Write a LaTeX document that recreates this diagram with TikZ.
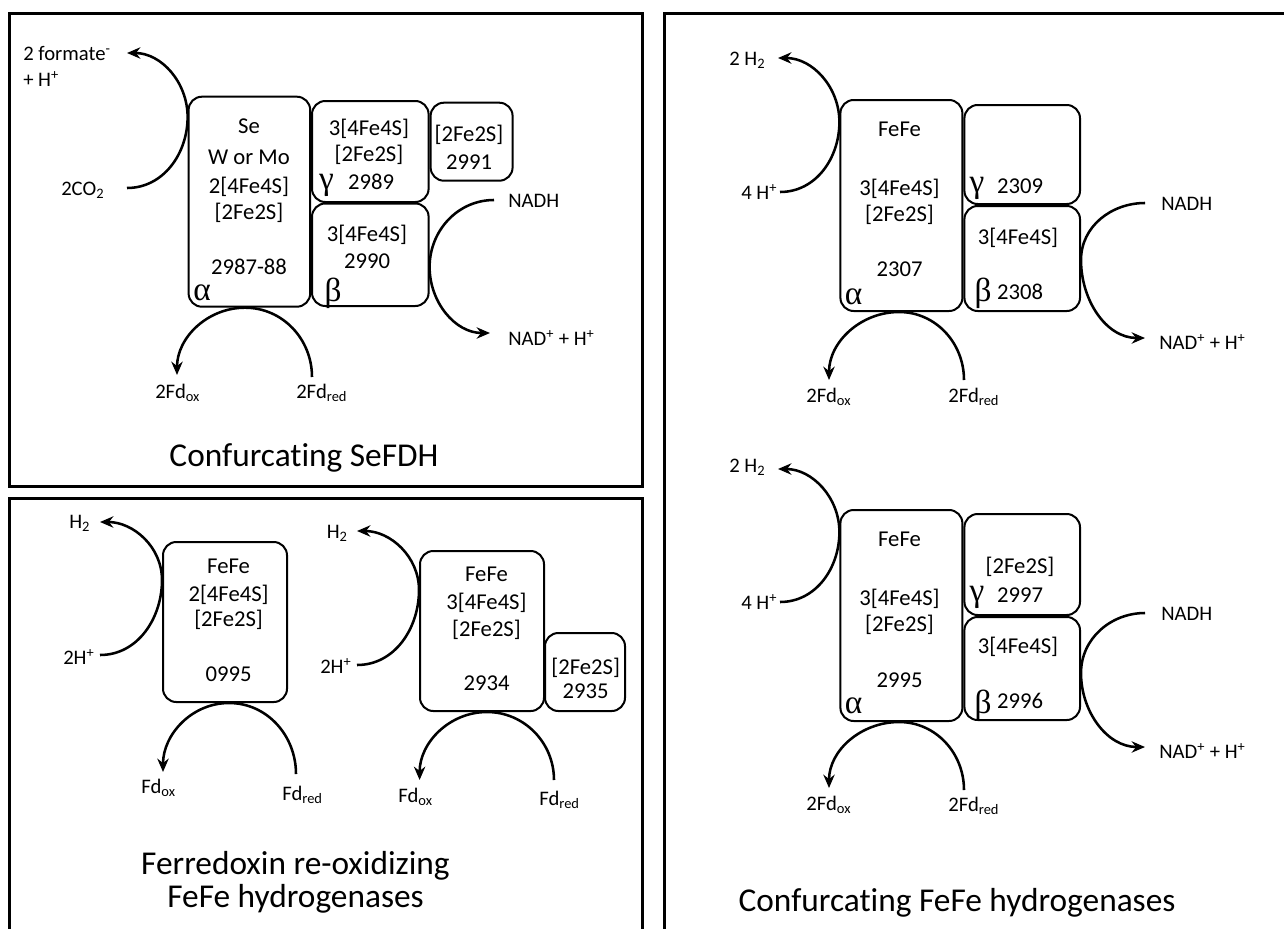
\documentclass[tikz,border=0pt]{standalone}
\usepackage{fontspec}
\setmainfont{Carlito}[Ligatures=NoCommon]
\newfontfamily\grkfont{Liberation Serif}
\usetikzlibrary{arrows.meta,fit}

\begin{document}
\begin{tikzpicture}[x=0.75pt,y=0.75pt,
  frame/.style={line width=2.25pt},
  unit/.style={draw,line width=1.5pt,rounded corners=10pt,inner sep=0pt},
  flow/.style={line width=1.9pt,-{Stealth[length=10pt,width=8.5pt]}},
  txt/.style={inner sep=0pt,font=\fontsize{17}{20}\selectfont},
  lbl/.style={inner sep=0pt,anchor=west,font=\fontsize{15.5}{18}\selectfont},
  grk/.style={inner sep=0pt,font=\grkfont\fontsize{25}{28}\selectfont},
  ttl/.style={inner sep=0pt,align=center,font=\fontsize{25}{25}\selectfont}]
\useasboundingbox (0,0) rectangle (1284,-928);
\fill[white] (0,0) rectangle (1284,-928);
\clip (0,0) rectangle (1284,-928);

% panel frames
\draw[frame] (9,-13) rectangle (642,-486);
\draw[frame] (9,-940) -- (9,-498) -- (642,-498) -- (642,-940);
\draw[frame] (664,-940) -- (664,-13) -- (1300,-13);

% confurcating SeFDH
\node[unit,fit={(188.6,-96.7) (310.2,-306.7)}] (aAlpha) {};
\node[unit,fit={(312,-101) (428.6,-202)}] (aGamma) {};
\node[unit,fit={(430.6,-102.7) (512.6,-180.7)}] (aExtra) {};
\node[unit,fit={(312,-203.5) (428.6,-306)}] (aBeta) {};

\node[txt] (aSe) at (249,-126) {Se};
\node[txt] (aMetal) at (249,-157) {W or Mo};
\node[txt] (aFeS4) at (249,-187) {2[4Fe4S]};
\node[txt] (aFeS2) at (249,-213) {[2Fe2S]};
\node[txt] (aAlphaId) at (249,-267) {2987-88};
\node[grk] (aAlphaSym) at (202,-293) {α};
\node[txt] (aGammaFeS4) at (369,-129) {3[4Fe4S]};
\node[txt] (aGammaFeS2) at (369,-155) {[2Fe2S]};
\node[txt] (aGammaId) at (371,-182) {2989};
\node[grk] (aGammaSym) at (326.5,-185) {γ};
\node[txt] (aExtraFeS2) at (469,-135) {[2Fe2S]};
\node[txt] (aExtraId) at (469,-162) {2991};
\node[txt] (aBetaFeS4) at (367,-235) {3[4Fe4S]};
\node[txt] (aBetaId) at (367,-261) {2990};
\node[grk] (aBetaSym) at (333,-293) {β};

\node[lbl,align=left,font=\fontsize{15.5}{19.5}\selectfont] (aFormate) at (23,-66) {2 formate\textsuperscript{-}\\+ H\textsuperscript{+}};
\node[lbl] (aCO2) at (61,-190) {2CO\textsubscript{2}};
\node[lbl] (aFdOx) at (155,-393) {2Fd\textsubscript{ox}};
\node[lbl] (aFdRed) at (296,-393) {2Fd\textsubscript{red}};
\node[lbl] (aNADH) at (508,-201) {NADH};
\node[lbl] (aNAD) at (508,-338) {NAD\textsuperscript{+} + H\textsuperscript{+}};

\coordinate (aCO2In) at (127,-188);
\coordinate (aFormateOut) at (127,-53);
\draw[flow] (aCO2In) to[out=0,in=-90] (aAlpha.west |- 0,-117) to[out=90,in=0] (aFormateOut);
\coordinate (aFdIn) at (312,-377);
\coordinate (aFdOut) at (177,-375);
\draw[flow] (aFdIn) to[out=90,in=0] (aAlpha.south -| 245,0) to[out=180,in=90] (aFdOut);
\coordinate (aNADHIn) at (494,-200);
\coordinate (aNADOut) at (490,-333);
\draw[flow] (aNADHIn) to[out=180,in=90] (aBeta.east |- 0,-267) to[out=-90,in=180] (aNADOut);

\node[ttl] (aTitle) at (304,-458) {Confurcating SeFDH};

% ferredoxin re-oxidizing hydrogenases
\node[unit,fit={(163,-542) (287,-702)}] (bHyd) {};
\node[txt] (bFeFe) at (228.6,-566) {FeFe};
\node[txt] (bFeS4) at (228.6,-595) {2[4Fe4S]};
\node[txt] (bFeS2) at (228.6,-620) {[2Fe2S]};
\node[txt] (bHydId) at (228.6,-674) {0995};

\node[lbl] (bH2) at (69,-523) {H\textsubscript{2}};
\node[lbl] (bHplus) at (63,-657) {2H\textsuperscript{+}};
\node[lbl] (bFdOx) at (141,-788) {Fd\textsubscript{ox}};
\node[lbl] (bFdRed) at (282,-795) {Fd\textsubscript{red}};

\coordinate (bHIn) at (100,-655);
\coordinate (bHOut) at (100,-522);
\draw[flow] (bHIn) to[out=0,in=-90] (bHyd.west |- 0,-580) to[out=90,in=0] (bHOut);
\coordinate (bFdIn) at (296,-774);
\coordinate (bFdOut) at (163,-772);
\draw[flow] (bFdIn) to[out=90,in=0] (bHyd.south -| 229,0) to[out=180,in=90] (bFdOut);

\node[unit,fit={(420,-551) (544,-711)}] (bHydB) {};
\node[unit,fit={(545,-633) (625,-711)}] (bExtra) {};
\node[txt] (bFeFeB) at (486.5,-574) {FeFe};
\node[txt] (bFeS4B) at (486.5,-603) {3[4Fe4S]};
\node[txt] (bFeS2B) at (486.5,-630) {[2Fe2S]};
\node[txt] (bHydBId) at (486.5,-683) {2934};
\node[txt] (bExtraFeS2) at (585.7,-668) {[2Fe2S]};
\node[txt] (bExtraId) at (585.7,-691) {2935};

\node[lbl] (bH2B) at (326.5,-533) {H\textsubscript{2}};
\node[lbl] (bHplusB) at (320,-666) {2H\textsuperscript{+}};
\node[lbl] (bFdOxB) at (398,-797) {Fd\textsubscript{ox}};
\node[lbl] (bFdRedB) at (539,-800) {Fd\textsubscript{red}};

\coordinate (bHInB) at (357,-665);
\coordinate (bHOutB) at (357,-531);
\draw[flow] (bHInB) to[out=0,in=-90] (bHydB.west |- 0,-590) to[out=90,in=0] (bHOutB);
\coordinate (bFdInB) at (554,-780);
\coordinate (bFdOutB) at (419.6,-780);
\draw[flow] (bFdInB) to[out=90,in=0] (bHydB.south -| 487,0) to[out=180,in=90] (bFdOutB);

\node[ttl] (bTitle) at (295.5,-882) {Ferredoxin re-oxidizing\\FeFe hydrogenases};

% confurcating hydrogenase, upper
\node[unit,fit={(840.4,-100) (962.4,-311)}] (cAlpha) {};
\node[unit,fit={(964.4,-105) (1080,-204)}] (cGamma) {};
\node[unit,fit={(964.4,-206) (1080,-311)}] (cBeta) {};

\node[txt] (cFeFe) at (899.5,-129) {FeFe};
\node[txt] (cFeS4) at (899.5,-189) {3[4Fe4S]};
\node[txt] (cFeS2) at (899.5,-215) {[2Fe2S]};
\node[txt] (cAlphaId) at (899.5,-269) {2307};
\node[grk] (cAlphaSym) at (853.5,-297) {α};
\node[grk] (cGammaSym) at (977,-188) {γ};
\node[txt] (cGammaId) at (1020,-186) {2309};
\node[txt] (cBetaFeS4) at (1018,-238) {3[4Fe4S]};
\node[grk] (cBetaSym) at (983,-293) {β};
\node[txt] (cBetaId) at (1020,-292) {2308};

\node[lbl] (cH2) at (729,-60) {2 H\textsubscript{2}};
\node[lbl] (cHplus) at (741,-192) {4 H\textsuperscript{+}};
\node[lbl] (cFdOx) at (806,-397) {2Fd\textsubscript{ox}};
\node[lbl] (cFdRed) at (948,-397) {2Fd\textsubscript{red}};
\node[lbl] (cNADH) at (1161,-204) {NADH};
\node[lbl] (cNAD) at (1159,-342) {NAD\textsuperscript{+} + H\textsuperscript{+}};

\coordinate (cHIn) at (780,-192);
\coordinate (cHOut) at (778,-58);
\draw[flow] (cHIn) to[out=0,in=-90] (cAlpha.west |- 0,-122) to[out=90,in=0] (cHOut);
\coordinate (cFdIn) at (964,-380);
\coordinate (cFdOut) at (829,-380);
\draw[flow] (cFdIn) to[out=90,in=0] (cAlpha.south -| 899,0) to[out=180,in=90] (cFdOut);
\coordinate (cNADHIn) at (1145,-203);
\coordinate (cNADOut) at (1145,-338);
\draw[flow] (cNADHIn) to[out=180,in=90] (cBeta.east |- 0,-260) to[out=-90,in=180] (cNADOut);

% confurcating hydrogenase, lower
\node[unit,fit={(840.4,-510) (962.4,-721)}] (dAlpha) {};
\node[unit,fit={(964.4,-514) (1080,-615)}] (dGamma) {};
\node[unit,fit={(964.4,-617) (1080,-720)}] (dBeta) {};

\node[txt] (dFeFe) at (899.5,-539) {FeFe};
\node[txt] (dFeS4) at (899.5,-599) {3[4Fe4S]};
\node[txt] (dFeS2) at (899.5,-625) {[2Fe2S]};
\node[txt] (dAlphaId) at (899.5,-680) {2995};
\node[grk] (dAlphaSym) at (853.5,-706) {α};
\node[txt] (dGammaFeS2) at (1020,-567) {[2Fe2S]};
\node[grk] (dGammaSym) at (977,-597) {γ};
\node[txt] (dGammaId) at (1020,-595) {2997};
\node[txt] (dBetaFeS4) at (1018,-647) {3[4Fe4S]};
\node[grk] (dBetaSym) at (983,-705) {β};
\node[txt] (dBetaId) at (1020,-701) {2996};

\node[lbl] (dH2) at (729,-467) {2 H\textsubscript{2}};
\node[lbl] (dHplus) at (741,-602) {4 H\textsuperscript{+}};
\node[lbl] (dFdOx) at (806,-805) {2Fd\textsubscript{ox}};
\node[lbl] (dFdRed) at (948,-806) {2Fd\textsubscript{red}};
\node[lbl] (dNADH) at (1161,-614) {NADH};
\node[lbl] (dNAD) at (1159,-751) {NAD\textsuperscript{+} + H\textsuperscript{+}};

\coordinate (dHIn) at (780,-602);
\coordinate (dHOut) at (778,-469);
\draw[flow] (dHIn) to[out=0,in=-90] (dAlpha.west |- 0,-532) to[out=90,in=0] (dHOut);
\coordinate (dFdIn) at (964,-790);
\coordinate (dFdOut) at (829,-788);
\draw[flow] (dFdIn) to[out=90,in=0] (dAlpha.south -| 899,0) to[out=180,in=90] (dFdOut);
\coordinate (dNADHIn) at (1145,-613);
\coordinate (dNADOut) at (1145,-747);
\draw[flow] (dNADHIn) to[out=180,in=90] (dBeta.east |- 0,-673) to[out=-90,in=180] (dNADOut);

\node[ttl] (dTitle) at (957,-903) {Confurcating FeFe hydrogenases};
\end{tikzpicture}
\end{document}
